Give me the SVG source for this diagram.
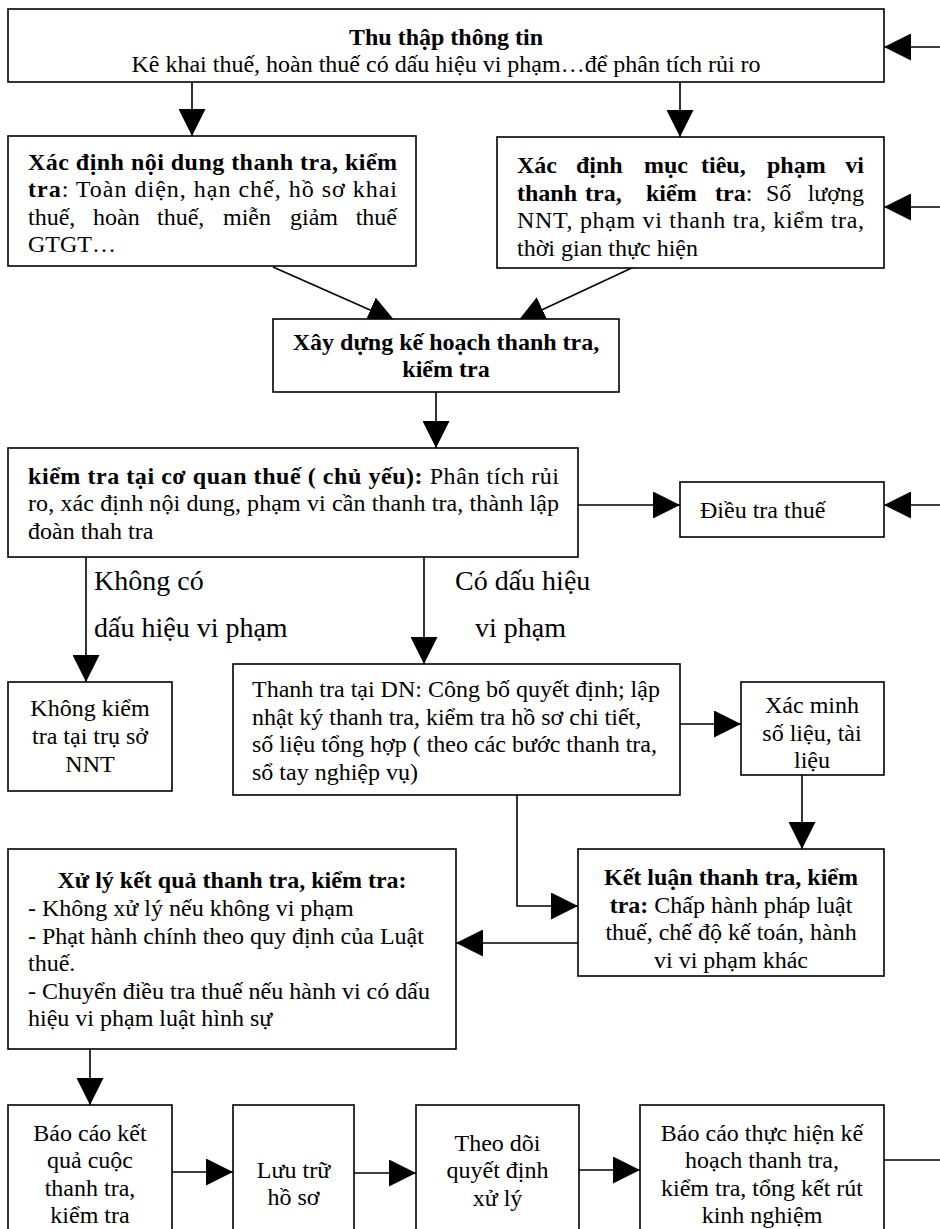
<svg xmlns="http://www.w3.org/2000/svg" width="940" height="1229" viewBox="0 0 940 1229">
<style>
.box{fill:#fff;stroke:#000;stroke-width:1.6}
.ln{stroke:#000;stroke-width:1.6;fill:none}
text{font-family:"Liberation Serif","Times New Roman",serif;font-size:24px;fill:#000}
.b{font-weight:bold}
.c{text-anchor:middle}
.e{text-anchor:end}
.lbl{font-size:28px}
</style>
<defs>
<marker id="ah" markerUnits="userSpaceOnUse" markerWidth="27" markerHeight="27" viewBox="0 0 27 27" refX="27" refY="13.5" orient="auto">
<path d="M0,0 L27,13.5 L0,27 z" fill="#000"/>
</marker>
</defs>
<rect width="940" height="1229" fill="#fff"/>

<g id="connectors">
<line class="ln" x1="192" y1="82" x2="192" y2="136" marker-end="url(#ah)"/>
<line class="ln" x1="680" y1="82" x2="680" y2="137" marker-end="url(#ah)"/>
<line class="ln" x1="273" y1="267" x2="395" y2="321" marker-end="url(#ah)"/>
<line class="ln" x1="636" y1="266" x2="518" y2="321" marker-end="url(#ah)"/>
<line class="ln" x1="436" y1="392" x2="436" y2="448" marker-end="url(#ah)"/>
<line class="ln" x1="578" y1="505" x2="680" y2="505" marker-end="url(#ah)"/>
<line class="ln" x1="940" y1="47" x2="884" y2="47" marker-end="url(#ah)"/>
<line class="ln" x1="940" y1="207" x2="884" y2="207" marker-end="url(#ah)"/>
<line class="ln" x1="940" y1="505" x2="884" y2="505" marker-end="url(#ah)"/>
<line class="ln" x1="86" y1="557" x2="86" y2="682" marker-end="url(#ah)"/>
<line class="ln" x1="424" y1="557" x2="424" y2="664" marker-end="url(#ah)"/>
<line class="ln" x1="680" y1="724" x2="741" y2="724" marker-end="url(#ah)"/>
<line class="ln" x1="802" y1="775" x2="802" y2="849" marker-end="url(#ah)"/>
<path class="ln" d="M517,795 V906 H578" marker-end="url(#ah)"/>
<line class="ln" x1="578" y1="943" x2="456" y2="943" marker-end="url(#ah)"/>
<line class="ln" x1="90" y1="1049" x2="90" y2="1105" marker-end="url(#ah)"/>
<line class="ln" x1="172" y1="1172" x2="233" y2="1172" marker-end="url(#ah)"/>
<line class="ln" x1="354" y1="1173" x2="416" y2="1173" marker-end="url(#ah)"/>
<line class="ln" x1="579" y1="1170" x2="640" y2="1170" marker-end="url(#ah)"/>
<line class="ln" x1="884" y1="1160" x2="940" y2="1160"/>
<text class="lbl" x="94" y="590">Không có</text>
<text class="lbl" x="94" y="637">dấu hiệu vi phạm</text>
<text class="lbl" x="455" y="590">Có dấu hiệu</text>
<text class="lbl" x="475" y="637">vi phạm</text>
</g>

<g id="thu-thap">
<rect class="box" x="8" y="9" width="876" height="73"/>
<text class="b c" x="446" y="45">Thu thập thông tin</text>
<text class="c" x="446" y="72">Kê khai thuế, hoàn thuế có dấu hiệu vi phạm…để phân tích rủi ro</text>
</g>

<g id="noi-dung">
<rect class="box" x="8" y="136" width="408" height="130"/>
<text class="b" x="28" y="169.5" textLength="369" lengthAdjust="spacing">Xác định nội dung thanh tra, kiểm</text>
<text x="28" y="197" textLength="369" lengthAdjust="spacing"><tspan class="b">tra</tspan>: Toàn diện, hạn chế, hồ sơ khai</text>
<text y="224.5"><tspan x="28">thuế,</tspan><tspan x="93">hoàn</tspan><tspan x="157">thuế,</tspan><tspan x="223">miễn</tspan><tspan x="290">giảm</tspan><tspan class="e" x="397">thuế</tspan></text>
<text x="28" y="252">GTGT…</text>
</g>

<g id="muc-tieu">
<rect class="box" x="497" y="137" width="387" height="131"/>
<text class="b" y="173"><tspan x="517">Xác</tspan><tspan x="576">định</tspan><tspan x="644">mục</tspan><tspan x="701">tiêu,</tspan><tspan x="767">phạm</tspan><tspan class="e" x="864">vi</tspan></text>
<text y="200.5"><tspan class="b" x="517">thanh</tspan><tspan class="b" x="585">tra,</tspan><tspan class="b" x="646">kiểm</tspan><tspan x="715"><tspan class="b">tra</tspan>:</tspan><tspan x="766">Số</tspan><tspan class="e" x="864">lượng</tspan></text>
<text x="517" y="228" textLength="347" lengthAdjust="spacing">NNT, phạm vi thanh tra, kiểm tra,</text>
<text x="517" y="255.5">thời gian thực hiện</text>
</g>

<g id="ke-hoach">
<rect class="box" x="273" y="319" width="346" height="73"/>
<text class="b c" x="446" y="350">Xây dựng kế hoạch thanh tra,</text>
<text class="b c" x="446" y="377">kiểm tra</text>
</g>

<g id="kiem-tra-co-quan">
<rect class="box" x="8" y="448" width="570" height="109"/>
<text x="28" y="483.5" textLength="531" lengthAdjust="spacing"><tspan class="b">kiểm tra tại cơ quan thuế ( chủ yếu):</tspan> Phân tích rủi</text>
<text x="28" y="511" textLength="531" lengthAdjust="spacing">ro, xác định nội dung, phạm vi cần thanh tra, thành lập</text>
<text x="28" y="538.5">đoàn thah tra</text>
</g>

<g id="dieu-tra">
<rect class="box" x="680" y="482" width="204" height="55"/>
<text x="700" y="518">Điều tra thuế</text>
</g>

<g id="khong-kiem-tra">
<rect class="box" x="8" y="682" width="164" height="109"/>
<text class="c" x="90" y="716">Không kiểm</text>
<text class="c" x="90" y="744">tra tại trụ sở</text>
<text class="c" x="90" y="771.5">NNT</text>
</g>

<g id="thanh-tra-dn">
<rect class="box" x="233" y="664" width="447" height="131"/>
<text x="252" y="697">Thanh tra tại DN: Công bố quyết định; lập</text>
<text x="252" y="724.5">nhật ký thanh tra, kiểm tra hồ sơ chi tiết,</text>
<text x="252" y="752">số liệu tổng hợp ( theo các bước thanh tra,</text>
<text x="252" y="779.5">sổ tay nghiệp vụ)</text>
</g>

<g id="xac-minh">
<rect class="box" x="741" y="682" width="143" height="93"/>
<text class="c" x="812" y="713">Xác minh</text>
<text class="c" x="812" y="740.5">số liệu, tài</text>
<text class="c" x="812" y="768">liệu</text>
</g>

<g id="ket-luan">
<rect class="box" x="578" y="849" width="306" height="127"/>
<text class="b c" x="731" y="885">Kết luận thanh tra, kiểm</text>
<text class="c" x="731" y="912.5"><tspan class="b">tra:</tspan> Chấp hành pháp luật</text>
<text class="c" x="731" y="940">thuế, chế độ kế toán, hành</text>
<text class="c" x="731" y="967.5">vi vi phạm khác</text>
</g>

<g id="xu-ly">
<rect class="box" x="8" y="849" width="448" height="200"/>
<text class="b c" x="232" y="888">Xử lý kết quả thanh tra, kiểm tra:</text>
<text x="28" y="916">- Không xử lý nếu không vi phạm</text>
<text x="28" y="943.5">- Phạt hành chính theo quy định của Luật</text>
<text x="28" y="971">thuế.</text>
<text x="28" y="998.5">- Chuyển điều tra thuế nếu hành vi có dấu</text>
<text x="28" y="1026">hiệu vi phạm luật hình sự</text>
</g>

<g id="bao-cao-ket-qua">
<rect class="box" x="8" y="1105" width="164" height="140"/>
<text class="c" x="90" y="1140.5">Báo cáo kết</text>
<text class="c" x="90" y="1168">quả cuộc</text>
<text class="c" x="90" y="1195.5">thanh tra,</text>
<text class="c" x="90" y="1223">kiểm tra</text>
</g>

<g id="luu-tru">
<rect class="box" x="233" y="1105" width="121" height="140"/>
<text class="c" x="293.5" y="1178">Lưu trữ</text>
<text class="c" x="293.5" y="1205">hồ sơ</text>
</g>

<g id="theo-doi">
<rect class="box" x="416" y="1105" width="163" height="140"/>
<text class="c" x="497.5" y="1150.5">Theo dõi</text>
<text class="c" x="497.5" y="1178">quyết định</text>
<text class="c" x="497.5" y="1205.5">xử lý</text>
</g>

<g id="bao-cao-thuc-hien">
<rect class="box" x="640" y="1105" width="244" height="140"/>
<text class="c" x="762" y="1140.5">Báo cáo thực hiện kế</text>
<text class="c" x="762" y="1168">hoạch thanh tra,</text>
<text class="c" x="762" y="1195.5">kiểm tra, tổng kết rút</text>
<text class="c" x="762" y="1223">kinh nghiệm</text>
</g>
</svg>
